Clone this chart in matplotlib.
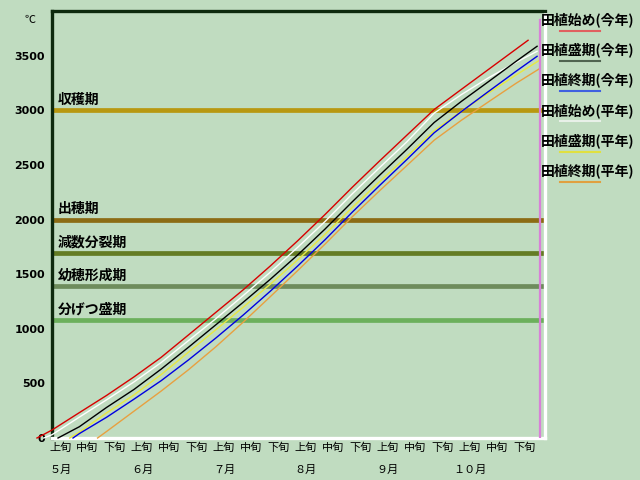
import matplotlib
matplotlib.use("Agg")
import matplotlib.pyplot as plt
from matplotlib.lines import Line2D
from matplotlib.transforms import blended_transform_factory

plt.rcParams['font.family'] = ['Noto Sans CJK JP', 'DejaVu Sans']

BG = '#C0DCC0'

# x axis: dekads counted from 5月上旬 start (0) to 10月下旬 end (18)
dekad_names = ['上旬', '中旬', '下旬'] * 6
month_names = ['５月', '６月', '７月', '８月', '９月', '１０月']

# accumulated temperature (℃) read at dekad boundaries
red_x = [-0.55, 0, 1, 2, 3, 4, 5, 6, 7, 8, 9, 10, 11, 12, 13, 14, 15, 16, 17, 17.44]
red_y = [0, 73, 232, 390, 559, 739, 944, 1150, 1356, 1576, 1806, 2046, 2296, 2537, 2773, 3008, 3193, 3377, 3561, 3642]

white_x = [-0.3, 0, 1, 2, 3, 4, 5, 6, 7, 8, 9, 10, 11, 12, 13, 14, 15, 16, 17, 17.77]
white_y = [0, 30, 191, 350, 513, 691, 892, 1092, 1303, 1519, 1746, 1982, 2236, 2476, 2712, 2975, 3145, 3300, 3440, 3541]

black_x = [0.22, 1, 2, 3, 4, 5, 6, 7, 8, 9, 10, 11, 12, 13, 14, 15, 16, 17, 17.77]
black_y = [0, 103, 280, 444, 631, 831, 1036, 1242, 1454, 1676, 1913, 2163, 2406, 2643, 2889, 3083, 3265, 3449, 3587]

yellow_x = [0.65, 1, 2, 3, 4, 5, 6, 7, 8, 9, 10, 11, 12, 13, 14, 15, 16, 17, 17.88]
yellow_y = [0, 53, 230, 394, 581, 786, 991, 1197, 1409, 1631, 1865, 2111, 2348, 2578, 2814, 2993, 3160, 3324, 3462]

blue_x = [0.77, 1, 2, 3, 4, 5, 6, 7, 8, 9, 10, 11, 12, 13, 14, 15, 16, 17, 17.77]
blue_y = [0, 40, 190, 355, 525, 715, 915, 1125, 1345, 1575, 1815, 2068, 2312, 2550, 2795, 2990, 3175, 3358, 3495]

orange_x = [1.67, 2, 3, 4, 5, 6, 7, 8, 9, 10, 11, 12, 13, 14, 15, 16, 17, 17.88]
orange_y = [0, 60, 245, 430, 625, 835, 1060, 1295, 1533, 1775, 2026, 2264, 2495, 2727, 2910, 3080, 3248, 3385]

# growth stage thresholds
stage_names = ['収穫期', '出穂期', '減数分裂期', '幼穂形成期', '分げつ盛期']
stage_values = [3000, 2000, 1690, 1390, 1080]
stage_colors = ['#B89810', '#8C6C14', '#647C24', '#6E8C5C', '#6CB05C']

legend_names = ['田植始め(今年)', '田植盛期(今年)', '田植終期(今年)',
                '田植始め(平年)', '田植盛期(平年)', '田植終期(平年)']
legend_colors = ['#E06060', '#506450', '#4060E0', '#E8F0E8', '#E0E040', '#E0A040']

fig = plt.figure(figsize=(6.4, 4.8), dpi=100, facecolor=BG)
ax = fig.add_axes([52 / 640, 42 / 480, 493 / 640, 427 / 480])
ax.set_facecolor(BG)
ax.set_xlim(0, 18.06)
ax.set_ylim(0, 3910)

for name, val, col in zip(stage_names, stage_values, stage_colors):
    ax.axhline(val, color=col, lw=3.4, zorder=1)
    ax.text(0.2, val + 35, name, fontsize=10, fontweight='bold',
            color='black', va='bottom', ha='left', zorder=2)

series = [(red_x, red_y, '#D80000'), (white_x, white_y, 'white'),
          (black_x, black_y, 'black'), (yellow_x, yellow_y, '#E8E840'),
          (blue_x, blue_y, '#0000E0'), (orange_x, orange_y, '#E8A040')]
for xs, ys, col in series:
    ax.plot(xs, ys, color=col, lw=1, zorder=3, clip_on=False)

ax.axvline(17.86, ymin=0, ymax=0.98, color='#D880D8', lw=1.6, zorder=4)

for side in ['left', 'top']:
    ax.spines[side].set_color('#0E2A0E')
    ax.spines[side].set_linewidth(2.4)
for side in ['bottom', 'right']:
    ax.spines[side].set_color('white')
    ax.spines[side].set_linewidth(2.4)

ax.set_yticks(range(0, 3501, 500))
ax.set_yticklabels([str(v) for v in range(0, 3501, 500)], family='DejaVu Sans',
                   fontweight='bold', fontsize=8)
ax.tick_params(axis='y', length=0, pad=5)

ax.set_xticks([k + 0.3 for k in range(18)])
ax.set_xticklabels(dekad_names, fontsize=8)
ax.tick_params(axis='x', length=0, pad=3)

trans = blended_transform_factory(ax.transData, ax.transAxes)
for i, m in enumerate(month_names):
    ax.text(i * 3 + 0.3, -0.075, m, transform=trans, fontsize=8,
            ha='center', va='center')

fig.text(30 / 640, 1 - 20 / 480, '℃', fontsize=8, ha='center', va='center')

for i, (name, col) in enumerate(zip(legend_names, legend_colors)):
    ty = 19.5 + i * 30.3
    fig.text(541 / 640, 1 - ty / 480, name, fontsize=10, fontweight='bold',
             ha='left', va='center')
    ly = 1 - (ty + 11) / 480
    fig.add_artist(Line2D([560 / 640, 600 / 640], [ly, ly], color=col, lw=1.5))

fig.savefig('out.png', dpi=100, facecolor=BG)
